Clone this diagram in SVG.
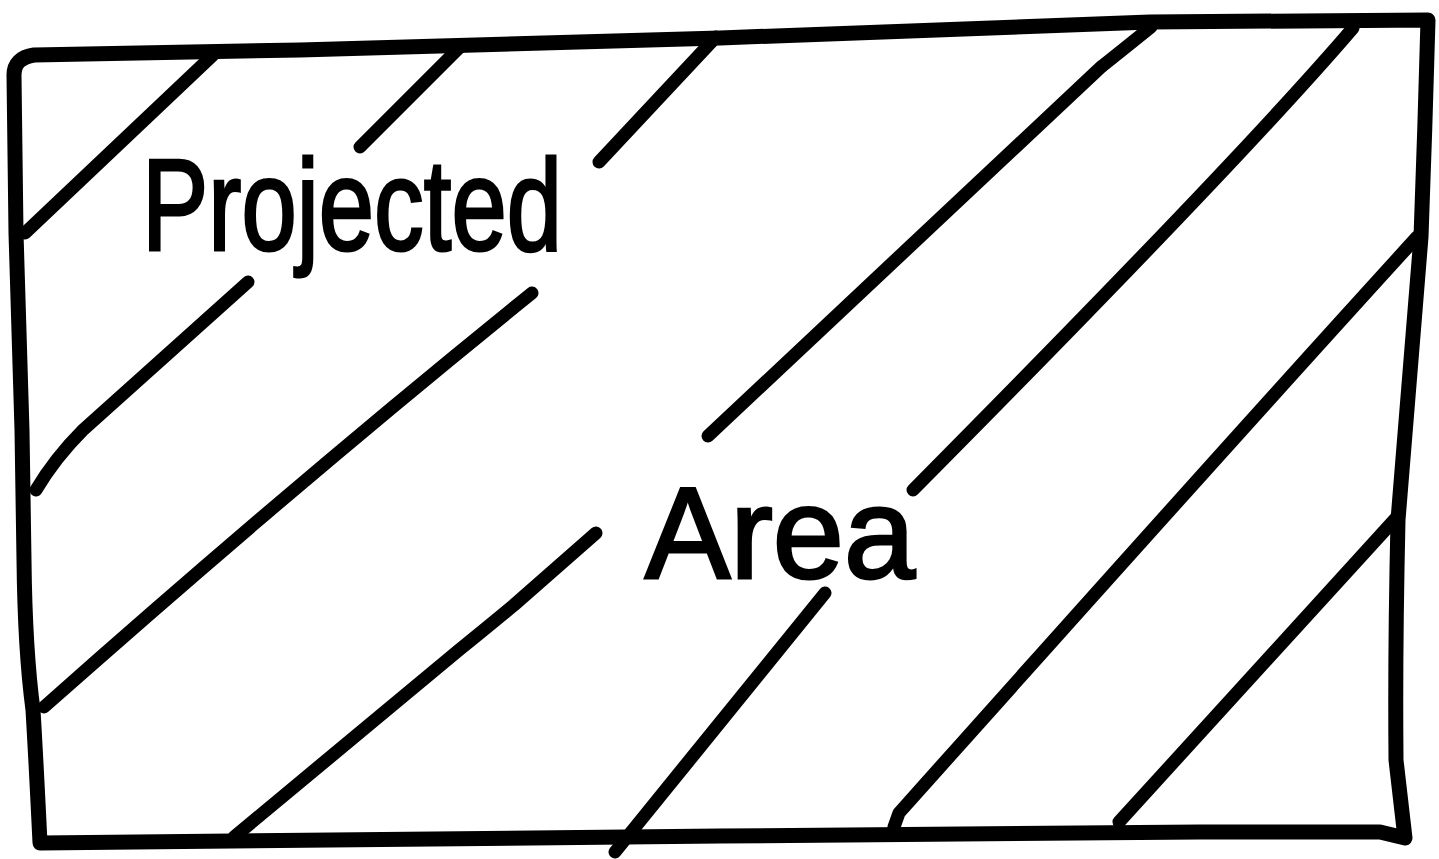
<svg xmlns="http://www.w3.org/2000/svg" width="1439" height="859" viewBox="0 0 1439 859">
<style>
.frame{fill:none;stroke:#000;stroke-width:15;stroke-linecap:round;stroke-linejoin:round}
.hatch{fill:none;stroke:#000;stroke-width:13;stroke-linecap:round;stroke-linejoin:round}
.label{font-family:"Liberation Sans","Noto Sans",sans-serif;fill:#000;stroke:#000;stroke-width:3}
</style>
<rect width="1439" height="859" fill="#fff"/>
<g id="frame">
<path class="frame" d="M14,75 Q14,58 34,55 L300,50 L720,38 L1150,22 L1428,20 Q1425,130 1421,237 Q1408,400 1398,520 Q1395,650 1396,760 L1405,838 L1380,832 L1200,832 L720,836 L40,843 Q36,760 33,710 Q25,650 24,560 L22,430 L16,233 Z"/>
</g>
<g id="hatching">
<path class="hatch" d="M213,55 L25,233"/>
<path class="hatch" d="M459,48 L360,147"/>
<path class="hatch" d="M716,37 L599,162"/>
<path class="hatch" d="M248,282 L83,430 Q55,458 36,490"/>
<path class="hatch" d="M532,293 Q300,480 44,707"/>
<path class="hatch" d="M596,533 L514,605 Q490,625 459,650 L234,837"/>
<path class="hatch" d="M825,593 L615,852"/>
<path class="hatch" d="M1151,27 Q1110,60 1101,67 L708,436"/>
<path class="hatch" d="M1353,28 Q1240,160 913,490"/>
<path class="hatch" d="M1417,237 Q1250,420 899,813 L894,827"/>
<path class="hatch" d="M1397,517 L1119,822"/>
</g>
<g id="labels">
<text class="label" x="142" y="250" font-size="130" textLength="420" lengthAdjust="spacingAndGlyphs">Projected</text>
<text class="label" x="645" y="578" font-size="130" textLength="270" lengthAdjust="spacingAndGlyphs">Area</text>
</g>
</svg>
